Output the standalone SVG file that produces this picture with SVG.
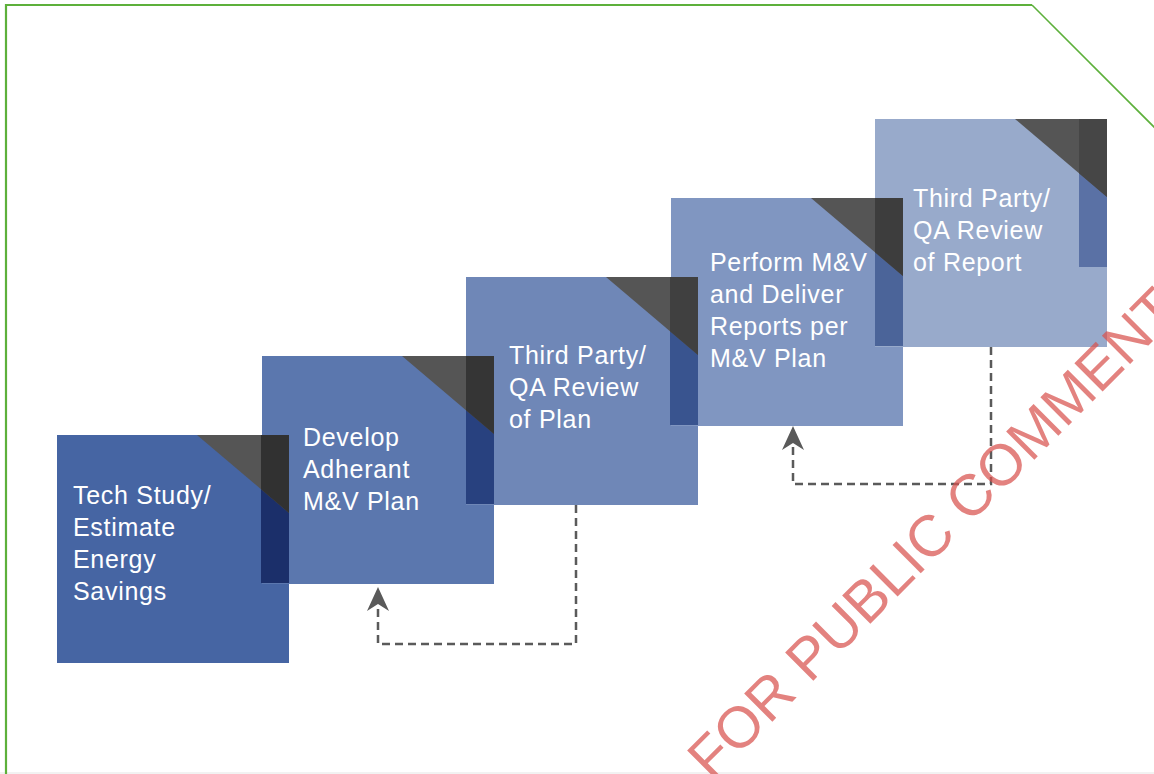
<svg xmlns="http://www.w3.org/2000/svg" width="1154" height="774" viewBox="0 0 1154 774">
<defs>
<style>
.lbl{font-family:"Liberation Sans",Arial,sans-serif;font-size:25px;fill:#ffffff;letter-spacing:0.7px}
.tri{fill:#555555}
.conn{fill:none;stroke:#5a5a5a;stroke-width:2.5;stroke-dasharray:8 5}
.wm{font-family:"Liberation Sans",Arial,sans-serif;font-size:58px;fill:#d9534f;opacity:0.72}
</style>
<marker id="arr" viewBox="0 0 24 22" refX="7" refY="11" markerWidth="24" markerHeight="22" markerUnits="userSpaceOnUse" orient="auto">
<path d="M0,0 L24,11 L0,22 L7,11 Z" fill="#5a5a5a"/>
</marker>
</defs>
<rect width="1154" height="774" fill="#ffffff"/>
<line x1="0" y1="773" x2="1154" y2="773" stroke="#eeeeee" stroke-width="1.5"/>
<path d="M6,774 V5 H1032" fill="none" stroke="#5db03b" stroke-width="2.2"/>
<path d="M1032,5 L1155,128" fill="none" stroke="#5db03b" stroke-width="1.6"/>

<g id="node1">
<rect x="57" y="435" width="232" height="228" fill="#4665a3"/>
</g>
<g id="node2">
<rect x="262" y="356" width="232" height="228" fill="#5b77ae"/>
</g>
<g id="node3">
<rect x="466" y="277" width="232" height="228" fill="#6f87b7"/>
</g>
<g id="node4">
<rect x="671" y="198" width="232" height="228" fill="#8096c1"/>
</g>
<g id="node5">
<rect x="875" y="119" width="232" height="228" fill="#98aacb"/>
</g>

<g id="accents">
<rect x="261" y="435" width="28" height="148" fill="#1b2f6a"/>
<polygon class="tri" points="197,435 289,435 289,513"/>
<polygon points="261,435 289,435 289,513 261,489.3" fill="#313131"/>

<rect x="466" y="356" width="28" height="148" fill="#28417f"/>
<polygon class="tri" points="402,356 494,356 494,434"/>
<polygon points="466,356 494,356 494,434 466,410.3" fill="#353535"/>

<rect x="670" y="277" width="28" height="148" fill="#39548f"/>
<polygon class="tri" points="606,277 698,277 698,355"/>
<polygon points="670,277 698,277 698,355 670,331.3" fill="#404040"/>

<rect x="875" y="198" width="28" height="148" fill="#4b6499"/>
<polygon class="tri" points="811,198 903,198 903,276"/>
<polygon points="875,198 903,198 903,276 875,252.3" fill="#3d3d3d"/>

<rect x="1079" y="119" width="28" height="148" fill="#5a71a5"/>
<polygon class="tri" points="1015,119 1107,119 1107,197"/>
<polygon points="1079,119 1107,119 1107,197 1079,173.3" fill="#464646"/>
</g>

<g id="labels">
<text class="lbl" x="73" y="504">Tech Study/</text>
<text class="lbl" x="73" y="536">Estimate</text>
<text class="lbl" x="73" y="568">Energy</text>
<text class="lbl" x="73" y="600">Savings</text>

<text class="lbl" x="303" y="446">Develop</text>
<text class="lbl" x="303" y="478">Adherant</text>
<text class="lbl" x="303" y="510">M&amp;V Plan</text>

<text class="lbl" x="509" y="364">Third Party/</text>
<text class="lbl" x="509" y="396">QA Review</text>
<text class="lbl" x="509" y="428">of Plan</text>

<text class="lbl" x="710" y="271">Perform M&amp;V</text>
<text class="lbl" x="710" y="303">and Deliver</text>
<text class="lbl" x="710" y="335">Reports per</text>
<text class="lbl" x="710" y="367">M&amp;V Plan</text>

<text class="lbl" x="913" y="207">Third Party/</text>
<text class="lbl" x="913" y="239">QA Review</text>
<text class="lbl" x="913" y="271">of Report</text>
</g>

<g id="connectors">
<path class="conn" d="M576,505 V644 H378 V604" marker-end="url(#arr)"/>
<path class="conn" d="M991,347 V484 H793 V443" marker-end="url(#arr)"/>
</g>

<text class="wm" transform="translate(712,782) rotate(-45)" x="0" y="0">FOR PUBLIC COMMENT</text>
</svg>
